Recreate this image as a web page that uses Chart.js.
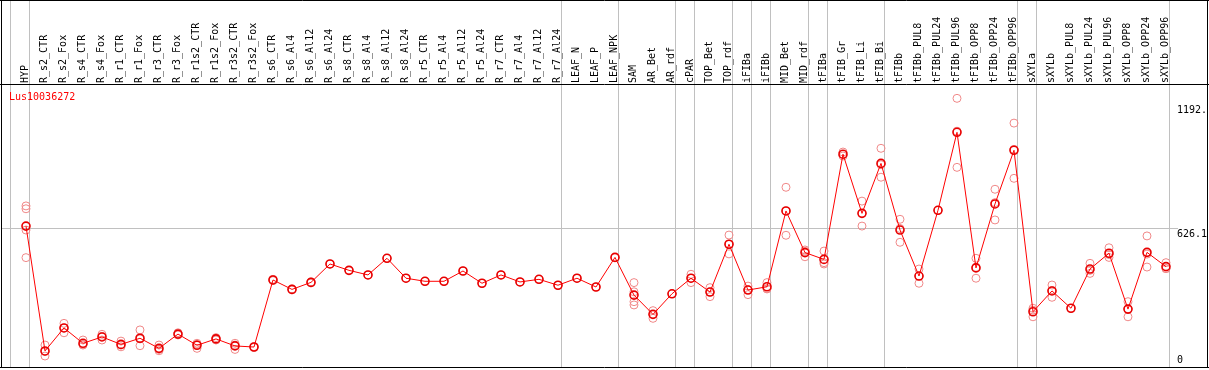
<!DOCTYPE html>
<html>
<head>
<meta charset="utf-8">
<script src="https://cdn.jsdelivr.net/npm/chart.js@4.4.0/dist/chart.umd.min.js"></script>
<style>
  html, body { margin: 0; padding: 0; background: #fff; }
  canvas { display: block; }
</style>
</head>
<body>
<canvas id="chart" width="1209" height="370"></canvas>
<script>
const geneName = "Lus10036272";

const categories = [
  "HYP", "R_s2_CTR", "R_s2_Fox", "R_s4_CTR", "R_s4_Fox", "R_r1_CTR", "R_r1_Fox",
  "R_r3_CTR", "R_r3_Fox", "R_r1s2_CTR", "R_r1s2_Fox", "R_r3s2_CTR", "R_r3s2_Fox",
  "R_s6_CTR", "R_s6_Al4", "R_s6_Al12", "R_s6_Al24", "R_s8_CTR", "R_s8_Al4",
  "R_s8_Al12", "R_s8_Al24", "R_r5_CTR", "R_r5_Al4", "R_r5_Al12", "R_r5_Al24",
  "R_r7_CTR", "R_r7_Al4", "R_r7_Al12", "R_r7_Al24", "LEAF_N", "LEAF_P", "LEAF_NPK",
  "SAM", "AR_Bet", "AR_rdf", "cPAR", "TOP_Bet", "TOP_rdf", "iFIBa", "iFIBb",
  "MID_Bet", "MID_rdf", "tFIBa", "tFIB_Gr", "tFIB_Li", "tFIB_Bi", "tFIBb",
  "tFIBb_PUL8", "tFIBb_PUL24", "tFIBb_PUL96", "tFIBb_OPP8", "tFIBb_OPP24", "tFIBb_OPP96",
  "sXYLa", "sXYLb", "sXYLb_PUL8", "sXYLb_PUL24", "sXYLb_PUL96", "sXYLb_OPP8",
  "sXYLb_OPP24", "sXYLb_OPP96"
];

// mean expression per sample
const meanValues = [
  635, 65, 170, 100, 129, 95, 123, 77, 142, 91, 120, 88, 83,
  389, 346, 378, 462, 433, 412, 488, 397, 383, 383, 430, 374,
  412, 380, 392, 365, 397, 357, 492,
  320, 232, 326, 397, 334, 552, 343, 358, 704, 514, 483,
  963, 693, 921, 617, 407, 707, 1063, 444, 736, 981,
  244, 339, 260, 439, 511, 256, 515, 450
];

// single replicates per sample
const replicateValues = [
  [727, 714, 617, 491], [92, 62, 42], [191, 170, 148], [115, 95, 92], [141, 132, 115],
  [110, 92, 84], [161, 120, 89], [92, 72, 66], [148, 138], [100, 95, 77],
  [126, 120, 115], [100, 92, 72], [85, 81],
  [392, 386], [348, 344], [380, 376], [462], [433], [412], [488], [397], [383], [383],
  [430], [374], [412], [380], [392], [365], [397], [357], [492],
  [377, 335, 290, 275], [249, 232, 214], [326], [415, 397, 377], [354, 334, 313],
  [594, 552, 508], [361, 345, 322], [377, 350, 348], [812, 704, 593], [526, 520, 495],
  [521, 468, 462],
  [973, 955], [749, 693, 635], [990, 915, 858], [666, 624, 561], [439, 407, 374],
  [707], [1218, 1068, 903], [488, 447, 397], [803, 742, 663], [1105, 985, 853],
  [260, 251, 221], [366, 341, 310], [260], [465, 433, 419], [536, 505, 492],
  [290, 257, 221], [590, 507, 448], [468, 441, 441]
];

// group separators: a line is drawn after these category indices
const groupEnds = [-1, 0, 28, 31, 34, 35, 37, 38, 39, 41, 42, 45, 52, 53, 60];

const yTickValues = [0, 626.1, 1192.4];
const yTickLabels = ["0", "626.1", "1192.4"];

const meanPoints = meanValues.map((v, i) => ({ x: i, y: v }));
const repPoints = [];
replicateValues.forEach((reps, i) => {
  reps.forEach(v => repPoints.push({ x: i, y: v }));
});

const xMin = -1.263, xMax = 60.632;
const yMin = -8.2, yMax = 1278.9;
const monoFont = { family: "'DejaVu Sans Mono', monospace", size: 10 };

const framePlugin = {
  id: "frame",
  afterDraw(chart) {
    const ctx = chart.ctx;
    const area = chart.chartArea;
    const yScale = chart.scales.y;
    const w = chart.width;

    ctx.save();
    ctx.beginPath();
    ctx.rect(0, 0, w - 2, chart.height);
    ctx.clip();
    ctx.font = "10px 'DejaVu Sans Mono', monospace";
    ctx.fillStyle = "#000";
    ctx.textAlign = "left";
    yTickValues.forEach((v, i) => {
      const py = yScale.getPixelForValue(v);
      if (py + 11 < area.bottom) {
        ctx.textBaseline = "top";
        ctx.fillText(yTickLabels[i], area.right - 1, py + 1);
      } else {
        ctx.textBaseline = "bottom";
        ctx.fillText(yTickLabels[i], area.right - 1, py);
      }
    });
    ctx.restore();

    ctx.save();
    ctx.font = "10px 'DejaVu Sans Mono', monospace";
    ctx.fillStyle = "#ff0000";
    ctx.textBaseline = "alphabetic";
    ctx.fillText(geneName, area.left + 7, area.top + 15);

    ctx.strokeStyle = "#000";
    ctx.lineWidth = 1;
    ctx.beginPath();
    ctx.moveTo(area.left - 0.5, 0);
    ctx.lineTo(area.left - 0.5, area.bottom + 1);
    ctx.moveTo(w - 1.5, 0);
    ctx.lineTo(w - 1.5, area.bottom + 1);
    ctx.moveTo(0, 0.5);
    ctx.lineTo(w, 0.5);
    ctx.moveTo(0, area.top - 0.5);
    ctx.lineTo(w, area.top - 0.5);
    ctx.moveTo(0, area.bottom + 0.5);
    ctx.lineTo(w, area.bottom + 0.5);
    ctx.stroke();
    ctx.restore();
  }
};

new Chart(document.getElementById("chart"), {
  type: "line",
  data: {
    datasets: [
      {
        label: "mean",
        data: meanPoints,
        order: 0,
        borderColor: "#ff0000",
        borderWidth: 1,
        fill: false,
        tension: 0,
        pointRadius: 4,
        pointBorderWidth: 1.6,
        pointBorderColor: "#e80000",
        pointBackgroundColor: "rgba(0,0,0,0)"
      },
      {
        label: "replicates",
        data: repPoints,
        order: 1,
        showLine: false,
        pointRadius: 4,
        pointBorderWidth: 1,
        pointBorderColor: "#f08888",
        pointBackgroundColor: "rgba(0,0,0,0)"
      }
    ]
  },
  options: {
    responsive: false,
    animation: false,
    layout: { autoPadding: false, padding: { left: 2, right: 1, top: 0, bottom: 3 } },
    plugins: {
      legend: { display: false },
      tooltip: { enabled: false }
    },
    scales: {
      x: {
        type: "linear",
        position: "top",
        weight: 1,
        min: xMin,
        max: xMax,
        afterBuildTicks: axis => { axis.ticks = categories.map((c, i) => ({ value: i })); },
        afterFit: axis => {
          axis.height = 85;
          axis.paddingLeft = 0;
          axis.paddingRight = 0;
        },
        grid: { display: false, drawTicks: false },
        border: { display: false },
        ticks: {
          autoSkip: false,
          minRotation: 90,
          maxRotation: 90,
          padding: 2,
          labelOffset: 11,
          color: "#000",
          font: monoFont,
          callback: (v, i) => categories[i]
        }
      },
      xb: {
        type: "linear",
        position: "top",
        weight: 0,
        min: xMin,
        max: xMax,
        afterBuildTicks: axis => { axis.ticks = groupEnds.map(i => ({ value: i + 0.21 })); },
        afterFit: axis => {
          axis.height = 0;
          axis.paddingLeft = 0;
          axis.paddingRight = 0;
        },
        ticks: { display: false },
        border: { display: false },
        grid: { color: "#c0c0c0", lineWidth: 1, drawTicks: true, tickLength: 85 }
      },
      y: {
        type: "linear",
        position: "right",
        min: yMin,
        max: yMax,
        afterBuildTicks: axis => { axis.ticks = yTickValues.map(v => ({ value: v })); },
        afterFit: axis => { axis.width = 30; },
        ticks: { display: false },
        border: { display: false },
        grid: {
          drawTicks: false,
          color: ctx => (ctx.index === 1 ? "#c0c0c0" : "rgba(0,0,0,0)")
        }
      }
    }
  },
  plugins: [framePlugin]
});
</script>
</body>
</html>
